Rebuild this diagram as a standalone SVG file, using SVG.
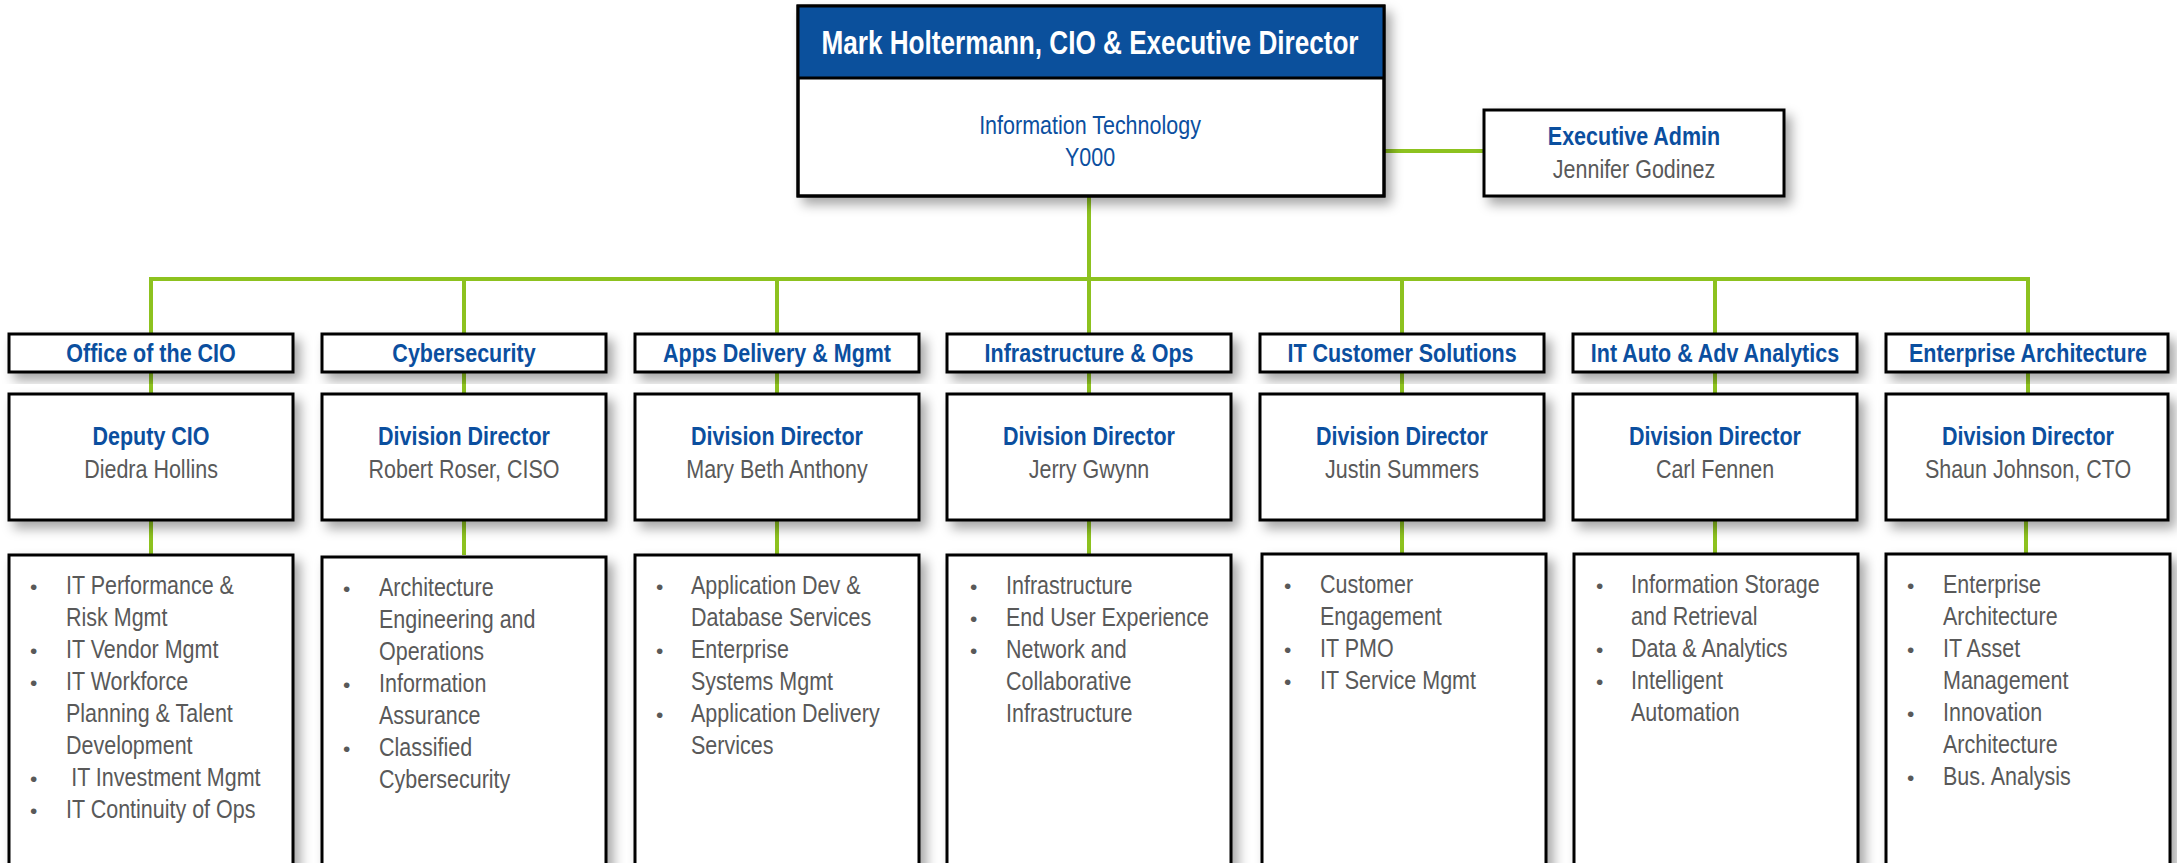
<svg xmlns="http://www.w3.org/2000/svg" width="2177" height="863" viewBox="0 0 2177 863">
<defs>
<filter id="sh" x="-10%" y="-10%" width="130%" height="140%">
<feDropShadow dx="6" dy="7" stdDeviation="6" flood-color="#000" flood-opacity="0.35"/>
</filter>
<style>
.box{fill:#fff;stroke:#000;stroke-width:3;filter:url(#sh)}
.band{fill:#0B509C}
.con{stroke:#8DC21F;stroke-width:4;fill:none}
.hd{font-family:"Liberation Sans",Arial,sans-serif;font-weight:bold;font-size:33.5px;fill:#fff;text-anchor:middle}
.bt{font-family:"Liberation Sans",Arial,sans-serif;font-weight:bold;font-size:25px;fill:#0B4F9F;text-anchor:middle}
.bl{font-family:"Liberation Sans",Arial,sans-serif;font-size:25px;fill:#0B4F9F;text-anchor:middle}
.gn{font-family:"Liberation Sans",Arial,sans-serif;font-size:25px;fill:#595959;text-anchor:middle}
.li{font-family:"Liberation Sans",Arial,sans-serif;font-size:25px;fill:#595959}
.bu{font-family:"Liberation Sans",Arial,sans-serif;font-size:21px;fill:#595959}
</style>
</defs>
<rect width="2177" height="863" fill="#fff"/>

<g id="connectors">
<path class="con" d="M1089 196V279"/>
<path class="con" d="M1384 151H1484"/>
<path class="con" d="M151 334V279H2028V334"/>
<path class="con" d="M464 279V334M777 279V334M1089 279V334M1402 279V334M1715 279V334"/>
<path class="con" d="M151 372V394M464 372V394M777 372V394M1089 372V394M1402 372V394M1715 372V394M2028 372V394"/>
<path class="con" d="M151 520V555M464 520V555M777 520V555M1089 520V555M1402 520V555M1715 520V555M2026 520V555"/>
</g>

<g id="cio">
<rect class="box" x="798" y="6" width="586" height="190"/>
<rect class="band" x="798" y="6" width="586" height="72"/>
<rect x="798" y="6" width="586" height="190" fill="none" stroke="#000" stroke-width="3"/>
<line x1="798" y1="78" x2="1384" y2="78" stroke="#000" stroke-width="3"/>
<g transform="translate(1090,0) scale(0.78,1)"><text class="hd" x="0" y="54">Mark Holtermann, CIO &amp; Executive Director</text></g>
<g transform="translate(1090,0) scale(0.86,1)"><text class="bl" x="0" y="134">Information Technology</text><text class="bl" x="0" y="166">Y000</text></g>
</g>

<g id="exec-admin">
<rect class="box" x="1484" y="110" width="300" height="86"/>
<g transform="translate(1634,0) scale(0.86,1)"><text class="bt" x="0" y="145">Executive Admin</text><text class="gn" x="0" y="178">Jennifer Godinez</text></g>
</g>

<!-- Column 1 -->
<g id="office-cio">
<rect class="box" x="9" y="334" width="284" height="38"/>
<g transform="translate(151,0) scale(0.86,1)"><text class="bt" x="0" y="362">Office of the CIO</text></g>
</g>
<g id="deputy-cio">
<rect class="box" x="9" y="394" width="284" height="126"/>
<g transform="translate(151,0) scale(0.86,1)"><text class="bt" x="0" y="445">Deputy CIO</text><text class="gn" x="0" y="478">Diedra Hollins</text></g>
</g>
<g id="list-office-cio">
<rect class="box" x="9" y="555" width="284" height="340"/>
<text class="bu"><tspan x="30" y="594">•</tspan><tspan x="30" y="658">•</tspan><tspan x="30" y="690">•</tspan><tspan x="30" y="786">•</tspan><tspan x="30" y="818">•</tspan></text>
<g transform="translate(66,0) scale(0.86,1)"><text class="li"><tspan x="0" y="594">IT Performance &amp;</tspan><tspan x="0" y="626">Risk Mgmt</tspan><tspan x="0" y="658">IT Vendor Mgmt</tspan><tspan x="0" y="690">IT Workforce</tspan><tspan x="0" y="722">Planning &amp; Talent</tspan><tspan x="0" y="754">Development</tspan><tspan x="6" y="786">IT Investment Mgmt</tspan><tspan x="0" y="818">IT Continuity of Ops</tspan></text></g>
</g>

<!-- Column 2 -->
<g id="cybersecurity">
<rect class="box" x="322" y="334" width="284" height="38"/>
<g transform="translate(464,0) scale(0.86,1)"><text class="bt" x="0" y="362">Cybersecurity</text></g>
</g>
<g id="dir-cyber">
<rect class="box" x="322" y="394" width="284" height="126"/>
<g transform="translate(464,0) scale(0.86,1)"><text class="bt" x="0" y="445">Division Director</text><text class="gn" x="0" y="478">Robert Roser, CISO</text></g>
</g>
<g id="list-cyber">
<rect class="box" x="322" y="557" width="284" height="340"/>
<text class="bu"><tspan x="343" y="596">•</tspan><tspan x="343" y="692">•</tspan><tspan x="343" y="756">•</tspan></text>
<g transform="translate(379,0) scale(0.86,1)"><text class="li"><tspan x="0" y="596">Architecture</tspan><tspan x="0" y="628">Engineering and</tspan><tspan x="0" y="660">Operations</tspan><tspan x="0" y="692">Information</tspan><tspan x="0" y="724">Assurance</tspan><tspan x="0" y="756">Classified</tspan><tspan x="0" y="788">Cybersecurity</tspan></text></g>
</g>

<!-- Column 3 -->
<g id="apps-delivery">
<rect class="box" x="635" y="334" width="284" height="38"/>
<g transform="translate(777,0) scale(0.86,1)"><text class="bt" x="0" y="362">Apps Delivery &amp; Mgmt</text></g>
</g>
<g id="dir-apps">
<rect class="box" x="635" y="394" width="284" height="126"/>
<g transform="translate(777,0) scale(0.86,1)"><text class="bt" x="0" y="445">Division Director</text><text class="gn" x="0" y="478">Mary Beth Anthony</text></g>
</g>
<g id="list-apps">
<rect class="box" x="635" y="555" width="284" height="340"/>
<text class="bu"><tspan x="656" y="594">•</tspan><tspan x="656" y="658">•</tspan><tspan x="656" y="722">•</tspan></text>
<g transform="translate(691,0) scale(0.86,1)"><text class="li"><tspan x="0" y="594">Application Dev &amp;</tspan><tspan x="0" y="626">Database Services</tspan><tspan x="0" y="658">Enterprise</tspan><tspan x="0" y="690">Systems Mgmt</tspan><tspan x="0" y="722">Application Delivery</tspan><tspan x="0" y="754">Services</tspan></text></g>
</g>

<!-- Column 4 -->
<g id="infra-ops">
<rect class="box" x="947" y="334" width="284" height="38"/>
<g transform="translate(1089,0) scale(0.86,1)"><text class="bt" x="0" y="362">Infrastructure &amp; Ops</text></g>
</g>
<g id="dir-infra">
<rect class="box" x="947" y="394" width="284" height="126"/>
<g transform="translate(1089,0) scale(0.86,1)"><text class="bt" x="0" y="445">Division Director</text><text class="gn" x="0" y="478">Jerry Gwynn</text></g>
</g>
<g id="list-infra">
<rect class="box" x="947" y="555" width="284" height="340"/>
<text class="bu"><tspan x="970" y="594">•</tspan><tspan x="970" y="626">•</tspan><tspan x="970" y="658">•</tspan></text>
<g transform="translate(1006,0) scale(0.86,1)"><text class="li"><tspan x="0" y="594">Infrastructure</tspan><tspan x="0" y="626">End User Experience</tspan><tspan x="0" y="658">Network and</tspan><tspan x="0" y="690">Collaborative</tspan><tspan x="0" y="722">Infrastructure</tspan></text></g>
</g>

<!-- Column 5 -->
<g id="it-customer">
<rect class="box" x="1260" y="334" width="284" height="38"/>
<g transform="translate(1402,0) scale(0.86,1)"><text class="bt" x="0" y="362">IT Customer Solutions</text></g>
</g>
<g id="dir-customer">
<rect class="box" x="1260" y="394" width="284" height="126"/>
<g transform="translate(1402,0) scale(0.86,1)"><text class="bt" x="0" y="445">Division Director</text><text class="gn" x="0" y="478">Justin Summers</text></g>
</g>
<g id="list-customer">
<rect class="box" x="1262" y="554" width="284" height="340"/>
<text class="bu"><tspan x="1284" y="593">•</tspan><tspan x="1284" y="657">•</tspan><tspan x="1284" y="689">•</tspan></text>
<g transform="translate(1320,0) scale(0.86,1)"><text class="li"><tspan x="0" y="593">Customer</tspan><tspan x="0" y="625">Engagement</tspan><tspan x="0" y="657">IT PMO</tspan><tspan x="0" y="689">IT Service Mgmt</tspan></text></g>
</g>

<!-- Column 6 -->
<g id="int-auto">
<rect class="box" x="1573" y="334" width="284" height="38"/>
<g transform="translate(1715,0) scale(0.86,1)"><text class="bt" x="0" y="362">Int Auto &amp; Adv Analytics</text></g>
</g>
<g id="dir-int-auto">
<rect class="box" x="1573" y="394" width="284" height="126"/>
<g transform="translate(1715,0) scale(0.86,1)"><text class="bt" x="0" y="445">Division Director</text><text class="gn" x="0" y="478">Carl Fennen</text></g>
</g>
<g id="list-int-auto">
<rect class="box" x="1574" y="554" width="284" height="340"/>
<text class="bu"><tspan x="1596" y="593">•</tspan><tspan x="1596" y="657">•</tspan><tspan x="1596" y="689">•</tspan></text>
<g transform="translate(1631,0) scale(0.86,1)"><text class="li"><tspan x="0" y="593">Information Storage</tspan><tspan x="0" y="625">and Retrieval</tspan><tspan x="0" y="657">Data &amp; Analytics</tspan><tspan x="0" y="689">Intelligent</tspan><tspan x="0" y="721">Automation</tspan></text></g>
</g>

<!-- Column 7 -->
<g id="enterprise-arch">
<rect class="box" x="1886" y="334" width="282" height="38"/>
<g transform="translate(2028,0) scale(0.86,1)"><text class="bt" x="0" y="362">Enterprise Architecture</text></g>
</g>
<g id="dir-enterprise">
<rect class="box" x="1886" y="394" width="282" height="126"/>
<g transform="translate(2028,0) scale(0.86,1)"><text class="bt" x="0" y="445">Division Director</text><text class="gn" x="0" y="478">Shaun Johnson, CTO</text></g>
</g>
<g id="list-enterprise">
<rect class="box" x="1886" y="554" width="284" height="340"/>
<text class="bu"><tspan x="1907" y="593">•</tspan><tspan x="1907" y="657">•</tspan><tspan x="1907" y="721">•</tspan><tspan x="1907" y="785">•</tspan></text>
<g transform="translate(1943,0) scale(0.86,1)"><text class="li"><tspan x="0" y="593">Enterprise</tspan><tspan x="0" y="625">Architecture</tspan><tspan x="0" y="657">IT Asset</tspan><tspan x="0" y="689">Management</tspan><tspan x="0" y="721">Innovation</tspan><tspan x="0" y="753">Architecture</tspan><tspan x="0" y="785">Bus. Analysis</tspan></text></g>
</g>
</svg>
